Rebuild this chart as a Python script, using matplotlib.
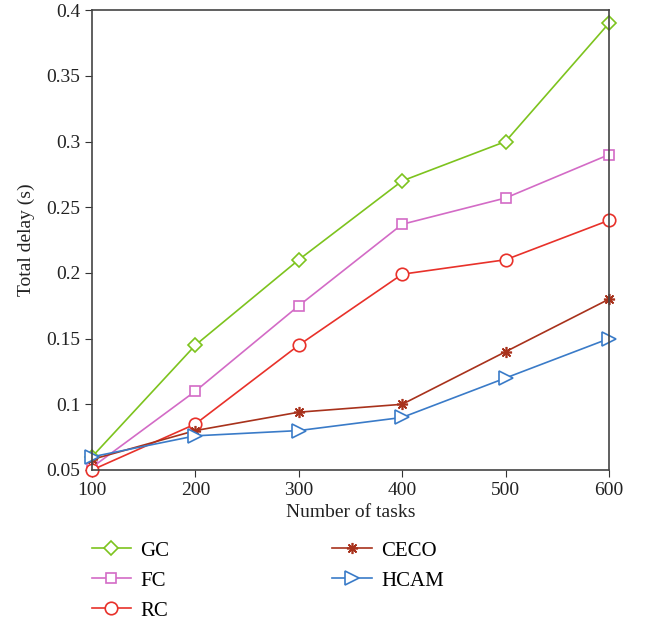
import matplotlib.pyplot as plt

plt.rcParams['font.family'] = ['Liberation Serif', 'DejaVu Serif']

tasks = [100, 200, 300, 400, 500, 600]
gc = [0.06, 0.145, 0.21, 0.27, 0.30, 0.39]
fc = [0.052, 0.11, 0.175, 0.237, 0.257, 0.29]
rc = [0.05, 0.085, 0.145, 0.199, 0.21, 0.24]
ceco = [0.058, 0.08, 0.094, 0.10, 0.14, 0.18]
hcam = [0.06, 0.076, 0.08, 0.09, 0.12, 0.15]

fig = plt.figure(figsize=(6.45, 6.24), dpi=100)
ax = fig.add_axes([0.1426, 0.2468, 0.8015, 0.737])

ax.plot(tasks, gc, color="#7dc31e", marker="D", ms=7, mfc="white", mew=1.2, lw=1.2, label="GC", clip_on=False)
ax.plot(tasks, fc, color="#d36bc6", marker="s", ms=7, mfc="white", mew=1.2, lw=1.2, label="FC", clip_on=False)
ax.plot(tasks, rc, color="#e8312a", marker="o", ms=9, mfc="white", mew=1.2, lw=1.2, label="RC", clip_on=False)
ax.plot(tasks, ceco, color="#a8321c", marker=(8, 2, 0), ms=8, mew=1.2, lw=1.2, label="CECO", clip_on=False)
ax.plot(tasks, hcam, color="#3a7bc8", marker=">", ms=10, mfc="white", mew=1.2, lw=1.2, label="HCAM", clip_on=False)

ax.set_xlim(100, 600)
ax.set_ylim(0.05, 0.4)
ax.set_xticks(tasks)
ax.set_yticks([0.05, 0.1, 0.15, 0.2, 0.25, 0.3, 0.35, 0.4])
ax.set_yticklabels(["0.05", "0.1", "0.15", "0.2", "0.25", "0.3", "0.35", "0.4"])
ax.tick_params(labelsize=14, direction="out", length=5, color="#333333", labelcolor="#222222")
for s in ax.spines.values():
    s.set_color("#444444")
    s.set_linewidth(1.2)

ax.set_xlabel("Number of tasks", fontsize=14, color="#222222", labelpad=4)
ax.set_ylabel("Total delay (s)", fontsize=14, color="#222222", labelpad=8)

h, l = ax.get_legend_handles_labels()
fig.legend(h, l, ncol=2, frameon=False,
           loc="upper left", bbox_to_anchor=(0.113, 0.163), fontsize=15,
           columnspacing=7.8, handlelength=1.9, handletextpad=0.45, labelspacing=0.5)

fig.savefig("out.png", dpi=100)
